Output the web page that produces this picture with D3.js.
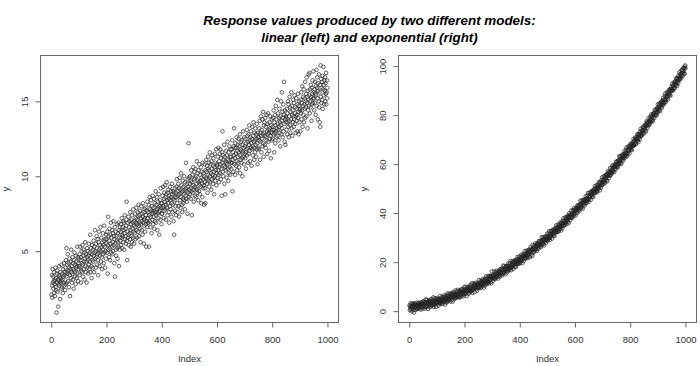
<!DOCTYPE html>
<html lang="en">
<head>
  <meta charset="utf-8">
  <title>Response values: linear and exponential</title>
  <script src="https://cdn.jsdelivr.net/npm/d3@7"></script>
  <style>
    body { margin: 0; background: #fff; }
    svg { display: block; }
    .title { font-family: "Liberation Sans", Arial, sans-serif; font-size: 13.4px; font-weight: bold; font-style: italic; fill: #000; text-anchor: middle; }
    .tick text, .axisLabel { font-family: "Liberation Sans", Arial, sans-serif; font-size: 9.5px; fill: #333; }
    .axisLabel { text-anchor: middle; }
  </style>
</head>
<body>
<script>
  var titleLines = ["Response values produced by two different models:", "linear (left) and exponential (right)"];
  var xLabel = "Index";
  var yLabel = "y";
  var xTicks = [0, 200, 400, 600, 800, 1000];
  var linearTicks = [5, 10, 15];
  var expTicks = [0, 20, 40, 60, 80, 100];

  // y values of the left panel, index 1..1000
  var linearY = [
    2.1, 3.4, 2.7, 1.9, 3.8, 2.9, 3.3, 2.5, 3.0, 2.2, 3.6, 2.8, 2.0, 3.1, 3.9, 2.6, 3.2, 2.4, 0.9, 3.5,
    2.9, 3.7, 2.3, 3.1, 1.3, 2.8, 3.4, 4.0, 2.7, 3.0, 3.3, 1.8, 3.6, 2.9, 3.2, 2.5, 4.1, 3.0, 2.6, 3.5,
    3.1, 2.2, 3.8, 3.3, 2.9, 4.2, 2.7, 3.4, 3.6, 2.4,
    3.9, 2.8, 4.4, 3.3, 5.2, 3.6, 2.9, 4.1, 3.5, 4.8, 3.0, 3.7, 4.2, 2.6, 3.9, 4.5, 3.4, 2.0, 3.8, 4.3,
    3.2, 5.1, 3.6, 4.0, 2.9, 3.5, 4.6, 3.1, 4.2, 3.8, 2.5, 4.4, 3.7, 4.9, 3.3, 4.1, 3.6, 2.8, 4.7, 3.9,
    4.3, 3.2, 4.0, 5.3, 3.5, 4.6, 3.0, 4.2, 3.8, 4.5,
    4.0, 3.4, 4.8, 5.3, 3.9, 4.4, 2.9, 4.6, 3.7, 5.0, 4.2, 3.6, 5.4, 4.1, 3.3, 4.7, 5.1, 3.8, 4.3, 4.9,
    3.1, 4.5, 5.6, 4.0, 3.6, 4.8, 4.3, 2.9, 5.2, 4.6, 3.9, 4.4, 5.0, 3.5, 4.7, 5.5, 4.1, 3.8, 4.9, 4.3,
    6.1, 3.6, 4.6, 5.2, 4.0, 3.2, 4.8, 5.4, 4.4, 3.9,
    5.1, 4.3, 5.7, 4.7, 3.6, 5.3, 4.9, 6.4, 4.5, 5.0, 3.9, 5.5, 4.6, 6.0, 5.2, 4.1, 4.8, 5.8, 4.4, 3.4,
    5.6, 4.9, 6.3, 5.1, 4.0, 5.4, 4.7, 6.6, 5.0, 4.3, 5.9, 5.3, 4.6, 3.8, 5.6, 5.1, 6.2, 4.8, 5.4, 4.2,
    5.7, 6.7, 4.9, 5.3, 3.9, 5.8, 5.0, 4.5, 6.1, 5.5,
    5.8, 4.9, 6.3, 3.5, 5.4, 7.3, 5.1, 6.0, 4.6, 5.7, 6.5, 5.2, 4.4, 6.1, 5.5, 6.9, 4.9, 5.9, 5.3, 6.4,
    4.8, 5.6, 6.2, 5.0, 7.0, 5.4, 6.0, 4.2, 5.8, 6.6, 3.3, 5.5, 6.3, 5.1, 4.7, 6.0, 5.7, 6.8, 5.2, 4.5,
    6.2, 5.6, 6.9, 5.3, 4.0, 6.4, 5.9, 5.1, 6.6, 5.7,
    6.3, 5.4, 6.8, 5.9, 7.2, 6.1, 5.2, 6.6, 6.0, 7.0, 5.6, 6.4, 6.9, 5.1, 6.2, 7.4, 5.8, 6.5, 6.0, 5.5,
    6.7, 7.1, 8.3, 5.7, 4.4, 6.3, 6.9, 5.9, 7.3, 6.1, 5.4, 6.6, 7.0, 6.2, 5.8, 7.6, 6.4, 5.3, 6.8, 7.1,
    6.0, 5.6, 7.4, 6.5, 6.9, 5.9, 7.8, 6.3, 6.7, 5.5,
    7.0, 6.2, 7.5, 6.6, 5.8, 7.2, 6.9, 7.9, 6.4, 7.1, 5.9, 6.8, 7.6, 6.3, 7.3, 8.1, 6.7, 6.0, 7.4, 6.9,
    7.7, 6.5, 5.6, 7.2, 6.8, 8.0, 7.0, 6.4, 7.5, 6.1, 7.3, 8.2, 6.9, 7.6, 5.5, 7.1, 6.7, 7.8, 7.2, 6.3,
    7.9, 6.8, 7.4, 5.3, 7.0, 7.7, 6.6, 8.3, 7.2, 6.9,
    7.6, 6.9, 8.1, 5.3, 7.4, 8.6, 7.0, 7.8, 6.6, 7.3, 8.4, 7.7, 6.2, 7.5, 8.0, 7.1, 8.7, 7.6, 6.8, 7.9,
    7.3, 8.5, 6.5, 7.7, 8.2, 7.0, 7.6, 9.0, 7.4, 6.9, 8.1, 7.8, 8.6, 6.4, 7.5, 8.3, 7.9, 7.2, 8.8, 7.6,
    6.1, 8.0, 7.7, 8.4, 7.1, 9.2, 7.9, 8.2, 6.8, 7.5,
    8.2, 7.5, 8.7, 7.9, 9.3, 8.0, 7.2, 8.5, 8.9, 7.7, 8.3, 9.4, 7.8, 8.6, 7.1, 8.1, 8.8, 9.6, 7.9, 8.4,
    7.4, 8.9, 8.2, 9.1, 7.6, 8.5, 6.9, 8.7, 8.0, 9.3, 8.4, 7.8, 9.0, 8.6, 7.3, 8.2, 9.5, 8.8, 7.6, 8.1,
    9.0, 8.5, 7.0, 8.9, 6.1, 8.4, 9.2, 7.7, 8.6, 8.0,
    8.9, 7.4, 9.3, 8.6, 9.8, 8.2, 7.6, 9.0, 8.7, 9.5, 8.0, 9.2, 7.3, 8.8, 9.9, 8.4, 9.1, 7.9, 8.6, 10.2,
    8.9, 9.4, 8.1, 7.6, 9.0, 9.7, 8.5, 8.2, 9.3, 8.8, 10.0, 8.4, 9.1, 7.8, 9.6, 8.7, 9.2, 10.9, 8.5, 9.0,
    8.3, 9.5, 7.5, 9.8, 8.9, 9.3, 12.2, 8.6, 9.9, 9.1,
    9.5, 8.8, 10.0, 9.2, 8.5, 9.7, 10.4, 9.0, 7.4, 9.6, 10.1, 8.9, 9.4, 10.6, 9.1, 8.3, 9.8, 10.3, 9.3, 8.7,
    9.9, 10.5, 9.2, 8.6, 10.0, 9.5, 11.0, 9.1, 8.9, 10.2, 9.7, 8.4, 10.4, 9.6, 9.0, 10.8, 9.4, 8.8, 10.1, 9.7,
    9.3, 10.6, 8.2, 9.9, 10.3, 9.5, 8.6, 10.9, 9.8, 9.2,
    10.2, 9.4, 8.1, 10.0, 10.8, 9.6, 9.2, 8.2, 10.4, 9.9, 11.1, 10.3, 9.5, 10.7, 9.8, 8.9, 10.5, 11.3, 10.1, 9.7,
    10.9, 9.3, 10.4, 11.6, 10.0, 9.6, 10.8, 10.2, 9.1, 11.0, 10.5, 9.8, 11.4, 10.1, 9.5, 10.7, 11.2, 9.9, 10.3, 8.8,
    10.6, 11.5, 10.0, 9.7, 10.9, 10.4, 11.8, 9.4, 10.2, 10.8,
    10.7, 9.9, 11.3, 10.4, 11.9, 10.1, 9.6, 11.0, 10.6, 11.5, 10.2, 11.8, 10.8, 9.8, 11.2, 10.5, 8.7, 11.6, 10.9, 13.0,
    10.3, 11.4, 10.0, 11.1, 10.7, 12.1, 9.5, 11.3, 10.6, 8.8, 11.0, 10.4, 11.7, 10.9, 9.9, 11.4, 10.8, 12.3, 10.5, 11.1,
    9.7, 11.6, 10.2, 11.0, 12.0, 10.6, 11.3, 10.1, 11.8, 10.9,
    11.3, 10.5, 11.8, 10.9, 12.4, 9.0, 11.1, 11.6, 10.3, 12.0, 11.4, 13.2, 10.8, 11.9, 11.2, 10.1, 12.2, 11.5, 10.7, 11.9,
    12.6, 11.0, 10.4, 11.7, 12.1, 11.3, 10.9, 12.5, 11.6, 10.6, 12.0, 11.4, 12.8, 10.2, 11.8, 11.1, 12.3, 11.7, 10.9, 12.4,
    11.2, 10.0, 12.1, 11.6, 13.0, 11.3, 11.9, 10.8, 12.6, 11.5,
    12.0, 11.2, 12.5, 11.6, 10.5, 12.2, 11.8, 13.1, 11.4, 12.7, 11.9, 12.3, 10.9, 12.8, 11.5, 12.1, 13.4, 11.7, 12.4, 11.0,
    12.6, 11.9, 13.0, 12.2, 10.7, 12.5, 11.8, 13.3, 12.0, 11.4, 12.7, 13.6, 11.9, 12.3, 11.1, 12.9, 12.4, 11.6, 13.2, 12.1,
    11.3, 12.8, 12.5, 13.5, 11.8, 12.2, 10.8, 12.9, 12.6, 11.9,
    12.6, 11.8, 13.2, 12.4, 13.7, 11.1, 12.9, 12.3, 14.0, 12.7, 11.6, 13.1, 12.5, 13.8, 12.0, 12.8, 14.3, 12.2, 11.3, 13.4,
    12.9, 13.6, 12.1, 12.7, 13.9, 11.9, 13.3, 12.6, 14.1, 12.4, 13.0, 11.5, 13.5, 12.8, 14.2, 12.3, 13.1, 12.9, 11.7, 13.6,
    12.5, 13.2, 14.0, 12.7, 11.2, 13.4, 12.9, 13.8, 12.4, 13.1,
    13.3, 12.5, 13.9, 12.8, 14.4, 13.1, 11.6, 13.6, 12.9, 14.1, 12.2, 13.4, 14.7, 13.0, 12.6, 13.8, 13.2, 15.1, 12.7, 13.5,
    14.2, 13.1, 12.4, 13.9, 13.3, 14.5, 12.9, 13.6, 12.0, 14.0, 13.4, 15.0, 12.8, 13.7, 15.6, 13.2, 14.3, 12.6, 13.9, 14.8,
    13.0, 14.1, 16.3, 13.5, 12.3, 14.4, 13.8, 12.1, 14.0, 13.6,
    13.9, 13.1, 14.5, 12.8, 14.2, 13.6, 15.0, 13.3, 14.8, 12.6, 14.0, 13.7, 15.3, 13.4, 14.6, 12.9, 14.3, 13.8, 15.6, 13.2,
    14.7, 14.1, 12.7, 14.4, 13.6, 15.1, 14.0, 13.3, 14.9, 13.8, 15.4, 14.2, 13.5, 14.6, 12.9, 14.0, 15.2, 13.7, 14.5, 14.1,
    13.0, 14.8, 15.5, 13.9, 14.3, 12.8, 14.7, 15.0, 13.6, 14.4,
    14.5, 13.0, 15.1, 14.2, 15.6, 13.8, 14.9, 14.4, 16.0, 13.3, 14.7, 15.3, 14.1, 15.8, 13.6, 14.8, 15.2, 14.5, 16.3, 13.9,
    15.0, 14.6, 15.5, 14.0, 16.6, 14.9, 15.3, 13.2, 15.7, 14.4, 15.1, 16.8, 14.7, 15.4, 16.9, 14.2, 15.8, 15.0, 14.6, 16.1,
    15.3, 13.7, 15.9, 14.8, 15.5, 16.4, 14.9, 15.2, 17.0, 15.6,
    15.2, 14.4, 15.8, 14.9, 16.3, 15.5, 14.1, 16.0, 15.4, 17.1, 14.7, 15.9, 16.6, 15.2, 13.8, 15.7, 16.2, 15.0, 16.8, 14.6,
    15.6, 13.6, 16.1, 13.3, 17.4, 15.3, 16.5, 14.9, 15.9, 16.3, 15.1, 16.7, 14.5, 15.8, 17.3, 15.4, 16.1, 14.8, 16.4, 15.7,
    16.6, 15.0, 16.2, 15.5, 16.9, 14.8, 15.6, 16.4, 15.2, 15.9
  ];

  // y values of the right panel, index 1..1000
  var expY = [
    2.4, 0.4, 1.9, 1.1, 3.2, 0.7, 1.7, 2.7, -0.1, 2.0, 1.2, 3.1, 1.6, 2.7, 0.4, 2.3, -0.6, 2.5, 3.2, 1.5,
    3.0, 1.6, 0.5, 2.6, 2.2, 1.2, 3.4, 0.9, 2.3, 1.9, 0.9, 2.9, 3.3, 1.3, 2.0, 3.5, 1.6, 2.6, 1.2, 3.0,
    2.6, 0.6, 3.3, 3.6, 1.7, 2.3, 3.0, 1.0, 3.9, 1.9, 4.0, 2.7, 1.6, 2.3, 3.4, 1.0, 3.7, 3.1, 1.8, 4.8,
    2.0, 3.5, 2.5, 4.6, 1.7, 3.2, 3.8, 0.9, 3.0, 4.1, 2.4, 4.4, 2.9, 3.7, 1.6, 4.1, 3.1, 2.1, 4.9, 2.8,
    4.1, 2.2, 3.7, 2.6, 4.9, 3.0, 5.6, 2.8, 1.7, 3.8, 2.8, 4.2, 5.3, 3.2, 3.6, 4.6, 1.8, 4.9, 3.5, 3.9,
    5.4, 3.4, 2.7, 5.0, 4.3, 2.2, 4.7, 3.7, 5.1, 3.3, 4.2, 6.2, 3.5, 3.2, 5.1, 4.5, 3.8, 5.8, 2.9, 4.9,
    3.2, 4.6, 5.7, 5.0, 4.0, 6.4, 3.7, 4.3, 5.6, 2.7, 6.1, 4.6, 5.6, 3.5, 6.4, 4.9, 4.3, 7.2, 5.1, 4.0,
    6.4, 4.4, 5.9, 5.1, 7.2, 4.7, 5.7, 6.7, 3.9, 6.0, 5.4, 7.3, 5.8, 6.9, 4.6, 6.5, 3.9, 6.7, 7.8, 5.7,
    7.4, 6.0, 4.9, 7.0, 6.6, 5.6, 8.4, 5.3, 6.7, 6.3, 5.5, 7.5, 8.2, 5.9, 6.6, 8.7, 6.2, 7.2, 5.8, 7.6,
    7.5, 5.5, 8.2, 8.5, 6.6, 7.2, 7.9, 5.9, 8.8, 6.8, 9.1, 7.8, 6.7, 7.4, 8.5, 6.1, 8.8, 8.2, 6.9, 9.9,
    7.3, 8.8, 7.8, 9.9, 7.0, 8.5, 9.1, 6.2, 8.3, 9.4, 7.9, 9.9, 8.4, 9.2, 7.1, 9.6, 8.6, 7.6, 10.4, 8.3,
    9.9, 8.0, 9.5, 8.4, 10.7, 8.8, 11.4, 8.6, 7.5, 9.6, 8.8, 10.2, 11.3, 9.2, 9.6, 10.6, 7.8, 10.9, 9.5, 9.9,
    11.6, 9.6, 8.9, 11.2, 10.5, 8.4, 10.9, 9.9, 11.3, 9.5, 10.7, 12.7, 10.0, 9.7, 11.6, 11.0, 10.3, 12.3, 9.4, 11.4,
    9.8, 11.2, 12.4, 11.7, 10.7, 13.1, 10.5, 11.2, 12.5, 9.6, 12.7, 11.3, 12.4, 10.4, 13.3, 11.8, 11.3, 14.2, 12.2, 11.2,
    13.2, 11.3, 12.9, 12.2, 14.4, 11.9, 13.0, 14.0, 11.3, 13.4, 12.5, 14.4, 13.0, 14.2, 11.9, 13.9, 11.4, 14.2, 16.2, 13.4,
    14.7, 13.4, 12.4, 14.6, 14.3, 13.4, 16.2, 13.2, 14.5, 14.2, 13.1, 15.1, 15.9, 13.7, 14.4, 16.5, 14.2, 15.2, 13.9, 15.8,
    15.3, 13.3, 16.1, 16.5, 14.6, 15.3, 16.0, 14.1, 17.1, 15.2, 17.2, 15.9, 14.9, 15.7, 16.8, 14.5, 17.3, 16.7, 15.5, 18.6,
    15.6, 17.1, 16.2, 18.4, 15.6, 17.1, 17.8, 15.0, 17.1, 18.3, 16.4, 18.5, 17.0, 17.9, 15.9, 18.5, 17.5, 16.6, 19.5, 17.5,
    18.5, 16.7, 18.3, 17.3, 19.6, 17.8, 20.5, 17.8, 16.7, 18.9, 17.7, 19.2, 20.3, 18.3, 18.8, 19.9, 17.2, 20.3, 19.0, 19.5,
    20.8, 18.8, 18.2, 20.6, 20.0, 18.0, 20.5, 19.6, 21.1, 19.4, 20.1, 22.1, 19.5, 19.3, 21.3, 20.8, 20.1, 22.2, 19.4, 21.5,
    19.7, 21.0, 22.2, 21.6, 20.6, 23.1, 20.5, 21.1, 22.5, 19.6, 22.8, 21.4, 22.5, 20.4, 23.4, 22.0, 21.5, 24.5, 22.5, 21.5,
    23.5, 21.6, 23.2, 22.5, 24.7, 22.3, 23.3, 24.4, 21.7, 23.9, 23.0, 25.0, 23.6, 24.8, 22.5, 24.5, 22.0, 24.9, 26.1, 24.1,
    25.5, 24.2, 23.1, 25.3, 25.0, 22.6, 27.0, 24.0, 25.5, 25.2, 24.1, 26.2, 26.9, 24.7, 25.5, 27.7, 25.3, 26.4, 25.1, 27.0,
    26.5, 24.6, 27.3, 27.7, 25.9, 26.6, 27.4, 25.5, 28.5, 26.6, 28.6, 27.4, 26.4, 27.2, 28.4, 26.1, 28.8, 28.3, 27.1, 30.2,
    27.2, 28.8, 27.9, 30.1, 27.3, 28.9, 29.6, 26.8, 29.0, 30.2, 28.3, 30.4, 29.0, 29.9, 27.9, 30.5, 29.6, 28.7, 31.6, 29.6,
    30.7, 28.9, 30.5, 29.5, 31.9, 30.1, 32.7, 30.0, 29.0, 31.2, 30.0, 31.5, 32.7, 30.7, 31.2, 32.3, 29.6, 32.8, 31.5, 32.0,
    33.3, 31.4, 30.9, 33.3, 32.7, 30.7, 33.3, 32.4, 33.9, 32.2, 32.9, 35.0, 32.4, 32.2, 34.2, 33.7, 33.1, 35.2, 32.4, 34.5,
    32.7, 34.1, 35.3, 34.7, 33.7, 36.2, 33.6, 34.4, 35.8, 32.9, 36.1, 34.7, 35.8, 33.8, 36.8, 35.4, 34.9, 37.9, 35.9, 34.9,
    37.0, 35.1, 36.8, 36.1, 38.3, 35.9, 37.0, 38.1, 35.4, 37.6, 36.7, 38.7, 37.3, 38.6, 36.4, 38.4, 35.9, 38.8, 40.0, 38.0,
    39.4, 38.1, 37.2, 39.4, 39.1, 38.2, 41.1, 38.1, 39.6, 39.3, 38.2, 40.4, 41.2, 39.0, 39.8, 42.0, 39.6, 40.7, 39.5, 41.4,
    40.9, 39.0, 41.8, 42.2, 40.4, 41.2, 42.0, 40.1, 43.1, 41.2, 43.2, 42.1, 41.1, 41.9, 43.1, 40.8, 43.6, 43.2, 42.0, 45.1,
    42.1, 43.7, 42.8, 45.1, 42.3, 43.9, 44.6, 41.8, 44.1, 45.3, 43.4, 45.5, 44.1, 45.1, 43.1, 45.7, 44.8, 43.9, 46.9, 44.9,
    46.0, 44.2, 45.8, 44.9, 47.3, 45.5, 48.2, 45.6, 44.6, 46.8, 45.6, 47.1, 48.4, 46.4, 46.9, 48.0, 45.4, 48.6, 47.3, 47.8,
    49.1, 47.3, 46.7, 49.1, 48.5, 46.6, 49.2, 48.3, 49.8, 48.2, 48.9, 51.0, 48.5, 48.3, 50.3, 49.8, 49.3, 51.4, 48.6, 50.7,
    49.0, 50.4, 51.6, 51.1, 50.1, 52.6, 50.0, 50.8, 52.2, 49.3, 52.6, 51.2, 52.3, 50.3, 53.4, 52.0, 51.5, 54.6, 52.6, 51.6,
    53.8, 51.9, 53.5, 52.8, 55.1, 52.7, 53.8, 55.0, 52.3, 54.5, 53.7, 55.7, 54.3, 55.6, 53.4, 55.4, 53.0, 55.9, 57.1, 55.2,
    56.6, 55.3, 54.4, 56.6, 56.3, 55.5, 58.4, 55.4, 57.0, 56.7, 55.7, 57.8, 58.6, 56.5, 57.3, 59.5, 57.2, 58.3, 57.0, 59.0,
    58.5, 56.7, 59.5, 59.9, 58.2, 58.9, 59.7, 57.9, 60.9, 59.1, 61.1, 59.9, 59.0, 59.8, 61.1, 58.8, 61.6, 61.2, 60.0, 63.2,
    60.2, 61.8, 61.0, 63.2, 60.5, 62.1, 62.9, 60.1, 62.3, 63.6, 61.7, 63.9, 62.5, 63.4, 61.5, 64.1, 63.3, 62.4, 65.4, 63.4,
    64.5, 62.8, 64.4, 63.5, 65.9, 64.2, 66.9, 64.3, 63.3, 65.6, 64.4, 65.9, 67.2, 65.2, 65.8, 66.9, 64.3, 67.5, 66.3, 66.8,
    68.2, 66.3, 65.8, 68.2, 67.6, 65.7, 68.3, 67.5, 69.0, 67.4, 68.1, 70.3, 67.7, 67.6, 69.6, 69.2, 68.6, 70.8, 68.0, 70.2,
    68.4, 69.9, 71.1, 70.6, 69.6, 72.2, 69.6, 70.4, 71.9, 69.0, 72.3, 70.9, 72.1, 70.1, 73.2, 71.8, 71.4, 74.4, 72.5, 71.5,
    73.7, 71.8, 73.5, 72.8, 75.1, 72.8, 73.9, 75.1, 72.4, 74.7, 73.8, 75.9, 74.5, 75.8, 73.7, 75.7, 73.3, 76.2, 77.5, 75.5,
    77.0, 75.8, 74.8, 77.1, 76.8, 76.0, 78.9, 76.0, 77.6, 77.3, 76.3, 78.4, 79.3, 77.2, 78.0, 80.3, 77.9, 79.1, 77.8, 79.8,
    79.4, 77.5, 80.4, 80.8, 79.1, 79.9, 80.7, 78.9, 82.0, 80.1, 82.2, 81.0, 80.1, 81.0, 82.2, 80.0, 82.9, 82.4, 81.3, 84.4,
    81.5, 83.2, 82.3, 84.6, 81.9, 83.5, 84.3, 81.6, 83.8, 85.1, 83.2, 85.4, 84.1, 85.0, 83.1, 85.8, 84.9, 84.1, 87.1, 85.2,
    86.3, 84.6, 86.3, 85.3, 87.8, 86.1, 88.8, 86.2, 85.3, 87.5, 86.4, 88.0, 89.2, 87.3, 87.9, 89.0, 86.4, 89.7, 88.4, 89.0,
    90.4, 88.6, 88.0, 90.5, 90.0, 88.0, 90.7, 89.9, 91.5, 89.8, 90.6, 92.8, 90.2, 90.1, 92.2, 91.8, 91.2, 93.4, 90.7, 92.9,
    91.1, 92.6, 93.9, 93.3, 92.4, 95.0, 92.5, 93.2, 94.7, 91.9, 95.2, 93.8, 95.0, 93.1, 96.2, 94.8, 94.4, 97.5, 95.6, 94.6,
    96.8, 95.0, 96.7, 96.1, 98.3, 96.0, 97.2, 98.4, 95.8, 98.0, 97.2, 99.3, 98.0, 99.2, 97.1, 99.2, 96.8, 99.8, 100.3, 99.1
  ];

  var width = 700, height = 366;
  var plotTop = 55.5, plotBottom = 322.5;

  var panels = [
    { left: 40.5, right: 338.5, values: linearY, yTicks: linearTicks },
    { left: 398.5, right: 696.5, values: expY, yTicks: expTicks }
  ];

  // R style range: data extent widened by 4% at each end
  function rRange(ext) {
    var d = (ext[1] - ext[0]) * 0.04;
    return [ext[0] - d, ext[1] + d];
  }

  var svg = d3.select("body").append("svg")
    .attr("width", width)
    .attr("height", height);

  svg.selectAll(".title")
    .data(titleLines)
    .enter().append("text")
    .attr("class", "title")
    .attr("x", 369.5)
    .attr("y", function (d, i) { return 25 + i * 17; })
    .text(function (d) { return d; });

  panels.forEach(function (p) {
    var pts = p.values.map(function (v, i) { return { index: i + 1, y: v }; });

    var x = d3.scaleLinear()
      .domain(rRange([1, pts.length]))
      .range([p.left, p.right]);
    var y = d3.scaleLinear()
      .domain(rRange(d3.extent(pts, function (d) { return d.y; })))
      .range([plotBottom, plotTop]);

    var g = svg.append("g");

    g.selectAll("circle")
      .data(pts)
      .enter().append("circle")
      .attr("cx", function (d) { return x(d.index); })
      .attr("cy", function (d) { return y(d.y); })
      .attr("r", 1.8)
      .attr("fill", "none")
      .attr("stroke", "#222")
      .attr("stroke-width", 0.7);

    g.append("rect")
      .attr("x", p.left)
      .attr("y", plotTop)
      .attr("width", p.right - p.left)
      .attr("height", plotBottom - plotTop)
      .attr("fill", "none")
      .attr("stroke", "#666")
      .attr("stroke-width", 1);

    var xAxis = g.append("g")
      .attr("transform", "translate(0," + plotBottom + ")")
      .call(d3.axisBottom(x).tickValues(xTicks).tickSize(5).tickFormat(d3.format("d")));
    xAxis.select(".domain").remove();
    xAxis.selectAll("line").attr("stroke", "#666");
    xAxis.selectAll("text")
      .attr("y", 17)
      .attr("dy", "0.35em")
      .attr("font-family", null)
      .attr("font-size", null);

    var yAxis = g.append("g")
      .attr("transform", "translate(" + p.left + ",0)")
      .call(d3.axisLeft(y).tickValues(p.yTicks).tickSize(5).tickFormat(d3.format("d")));
    yAxis.select(".domain").remove();
    yAxis.selectAll("line").attr("stroke", "#666");
    yAxis.selectAll("text")
      .attr("x", 0)
      .attr("dy", "0.35em")
      .attr("text-anchor", "middle")
      .attr("transform", "translate(-15.5,0) rotate(-90)")
      .attr("font-family", null)
      .attr("font-size", null);

    g.append("text")
      .attr("class", "axisLabel")
      .attr("x", (p.left + p.right) / 2)
      .attr("y", 359)
      .attr("dy", "0.35em")
      .text(xLabel);

    g.append("text")
      .attr("class", "axisLabel")
      .attr("transform", "translate(" + (p.left - 34.5) + "," + ((plotTop + plotBottom) / 2) + ") rotate(-90)")
      .attr("dy", "0.35em")
      .text(yLabel);
  });
</script>
</body>
</html>
